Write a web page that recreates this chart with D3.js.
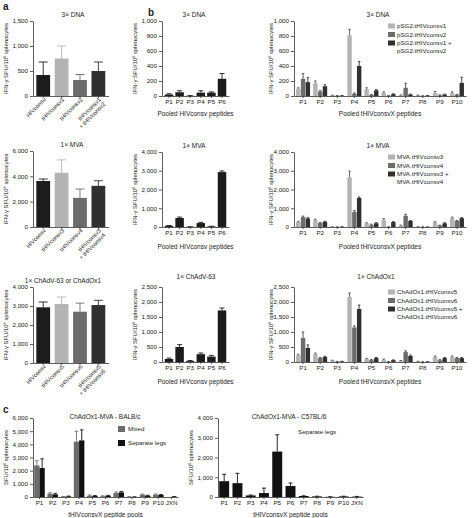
<!DOCTYPE html>
<html><head><meta charset="utf-8">
<script src="https://cdn.jsdelivr.net/npm/d3@7"></script>
<style>
body{margin:0;background:#fff}
svg{display:block}
text{font-family:"Liberation Sans",Arial,Helvetica,sans-serif;fill:#222}
</style>
</head><body>
<svg id="chart" width="473" height="518"></svg>
<script>
// ---------------- DATA ----------------
const aCatsDNA = ["HIVconsv","tHIVconsv1","tHIVconsv2","tHIVconsv1|+ tHIVconsv2"];
const aCatsMVA = ["HIVconsv","tHIVconsv3","tHIVconsv4","tHIVconsv3|+ tHIVconsv4"];
const aCatsChAd = ["HIVconsv","tHIVconsv5","tHIVconsv6","tHIVconsv5|+ tHIVconsv6"];
const aDNA = [420, 750, 320, 500];
const aDNAErr = [680, 1000, 430, 680];
const aMVA = [3630, 4280, 2300, 3250];
const aMVAErr = [3790, 5300, 3000, 3650];
const aChAd = [2930, 3100, 2700, 3050];
const aChAdErr = [3210, 3470, 3150, 3300];

const bPools6 = ["P1","P2","P3","P4","P5","P6"];
const bDNA = [20, 50, 3, 45, 45, 230];
const bDNAErr = [30, 70, 5, 70, 55, 300];
const bMVA = [60, 480, 10, 210, 30, 2930];
const bMVAErr = [80, 530, 15, 250, 40, 2990];
const bChAd = [100, 500, 30, 260, 180, 1720];
const bChAdErr = [130, 580, 50, 300, 220, 1800];

const bPools10 = ["P1","P2","P3","P4","P5","P6","P7","P8","P9","P10"];
const dnaNames = ["pSG2.tHIVconsv1","pSG2.tHIVconsv2","pSG2.tHIVconsv1 +|pSG2.tHIVconsv2"];
const dnaV1 = [95, 170, 10, 810, 90, 40, 10, 10, 40, 40];
const dnaE1 = [110, 200, 12, 890, 110, 55, 15, 12, 60, 55];
const dnaV2 = [230, 60, 3, 30, 15, 3, 110, 2, 10, 15];
const dnaE2 = [300, 70, 5, 40, 20, 5, 170, 3, 15, 20];
const dnaV3 = [185, 130, 5, 400, 75, 25, 20, 5, 20, 175];
const dnaE3 = [245, 150, 7, 460, 85, 30, 25, 7, 25, 250];

const mvaNames = ["MVA.tHIVconsv3","MVA.tHIVconsv4","MVA.tHIVconsv3 +|MVA.tHIVconsv4"];
const mvaV1 = [270, 370, 10, 2650, 200, 380, 80, 10, 250, 480];
const mvaE1 = [300, 420, 15, 2980, 230, 450, 100, 15, 280, 530];
const mvaV2 = [530, 210, 5, 800, 100, 10, 600, 5, 80, 320];
const mvaE2 = [580, 240, 8, 870, 150, 15, 680, 8, 100, 350];
const mvaV3 = [460, 280, 10, 1550, 200, 260, 320, 5, 200, 470];
const mvaE3 = [500, 310, 15, 1600, 230, 290, 350, 8, 230, 500];

const chadNames = ["ChAdOx1.tHIVconsv5","ChAdOx1.tHIVconsv6","ChAdOx1.tHIVconsv5 +|ChAdOx1.tHIVconsv6"];
const chadV1 = [230, 270, 50, 2170, 100, 80, 40, 20, 170, 170];
const chadE1 = [260, 300, 60, 2300, 120, 100, 50, 25, 200, 200];
const chadV2 = [800, 130, 15, 1150, 70, 10, 330, 5, 60, 130];
const chadE2 = [1000, 150, 20, 1200, 90, 15, 370, 8, 80, 150];
const chadV3 = [470, 170, 20, 1770, 130, 60, 200, 10, 130, 130];
const chadE3 = [570, 190, 25, 1900, 150, 70, 230, 12, 150, 150];

const cPools = ["P1","P2","P3","P4","P5","P6","P7","P8","P9","P10","JXN"];
const cNames = ["Mixed","Separate legs"];
const cMixed = [2400, 250, 30, 4200, 100, 60, 300, 20, 180, 180, 0];
const cMixedErr = [2750, 320, 40, 5000, 150, 90, 380, 25, 220, 230, 0];
const cSep = [2200, 200, 50, 4300, 80, 100, 350, 10, 100, 150, 30];
const cSepErr = [2900, 280, 70, 5100, 110, 130, 420, 15, 130, 190, 40];
const cC57 = [800, 700, 80, 200, 2300, 560, 50, 30, 10, 30, 20];
const cC57Err = [1150, 1200, 100, 450, 3150, 710, 60, 40, 15, 40, 30];

const tk1500 = [0, 500, 1000, 1500];
const tk6000a = [0, 2000, 4000, 6000];
const tk4000a = [0, 1000, 2000, 3000, 4000];
const tk1000 = [0, 200, 400, 600, 800, 1000];
const tk2500 = [0, 500, 1000, 1500, 2000, 2500];
const tk6000c = [0, 1000, 2000, 3000, 4000, 5000, 6000];

// colours
const cBlack = "#1c1c1c", cLight = "#b3b3b3", cMid = "#6c6c6c", cDark = "#303030";

// ---------------- DRAW ----------------
const svg = d3.select("#chart");
const fmt = d3.format(",");
const AX = "#333";
const TXT = "#222";

function yLabelText(sel, prefix) {
  sel.append("tspan").attr("fill", TXT).text(prefix + "SFU/10");
  sel.append("tspan").attr("fill", TXT).attr("dy", -2).attr("font-size", "4px").text("6");
  sel.append("tspan").attr("fill", TXT).attr("dy", 2).text(" splenocytes");
}

function drawPanel(o) {
  const g = svg.append("g");
  const x = d3.scaleBand().domain(o.cats).range([o.left, o.right])
    .paddingInner(o.padIn).paddingOuter(o.padOut);
  const y = d3.scaleLinear().domain([0, o.max]).range([o.bottom, o.top]);
  const sub = d3.scaleBand().domain(d3.range(o.series.length))
    .range([0, x.bandwidth()]).paddingInner(o.subPad || 0);

  const ya = g.append("g").attr("transform", `translate(${o.left},0)`)
    .call(d3.axisLeft(y).tickValues(o.ticks).tickFormat(fmt).tickSize(3).tickSizeOuter(0).tickPadding(2));
  const xa = g.append("g").attr("transform", `translate(0,${o.bottom})`)
    .call(d3.axisBottom(x).tickSize(2).tickSizeOuter(0).tickPadding(2)
      .tickFormat(o.rotLabels ? () => "" : d => d));
  [ya, xa].forEach(a => {
    a.selectAll("path,line").attr("stroke", AX).attr("stroke-width", 0.8);
    a.selectAll("text").attr("font-size", "6.2px").attr("fill", TXT)
      .style("font-family", '"Liberation Sans",Arial,sans-serif');
  });

  o.series.forEach((s, i) => {
    const bw = sub.bandwidth();
    const rows = o.cats.map((c, j) => ({c, v: s.values[j], e: s.errs[j]}));
    const sg = g.append("g");
    sg.selectAll("rect").data(rows).join("rect")
      .attr("x", d => x(d.c) + sub(i)).attr("y", d => y(d.v))
      .attr("width", bw).attr("height", d => o.bottom - y(d.v))
      .attr("fill", s.color);
    const er = rows.filter(d => d.e > d.v);
    sg.selectAll("line.v").data(er).join("line").attr("class", "v")
      .attr("x1", d => x(d.c) + sub(i) + bw / 2).attr("x2", d => x(d.c) + sub(i) + bw / 2)
      .attr("y1", d => y(d.v)).attr("y2", d => y(d.e))
      .attr("stroke", s.errColor || s.color).attr("stroke-width", 0.9);
    sg.selectAll("line.cap").data(er).join("line").attr("class", "cap")
      .attr("x1", d => x(d.c) + sub(i) + bw / 2 - o.cap / 2).attr("x2", d => x(d.c) + sub(i) + bw / 2 + o.cap / 2)
      .attr("y1", d => y(d.e)).attr("y2", d => y(d.e))
      .attr("stroke", s.errColor || s.color).attr("stroke-width", 0.9);
  });

  if (o.rotLabels) {
    o.cats.forEach(c => {
      const lines = c.split("|");
      const cx = x(c) + x.bandwidth() / 2;
      const t = g.append("text").attr("transform", `translate(${cx + 3},${o.bottom + 4}) rotate(-45)`)
        .attr("text-anchor", "end").attr("font-size", "5.8px").attr("fill", TXT);
      lines.forEach((l, k) => t.append("tspan").attr("fill", TXT).attr("x", 0).attr("dy", k === 0 ? 0 : "1.1em").text(l));
    });
  }

  if (o.title) g.append("text").attr("x", o.titleX).attr("y", o.titleY).attr("text-anchor", "middle")
    .attr("font-size", "6.5px").attr("fill", TXT).text(o.title);
  if (o.xTitle) g.append("text").attr("x", (o.left + o.right) / 2).attr("y", o.xTitleY)
    .attr("text-anchor", "middle").attr("font-size", "6.5px").attr("fill", TXT).text(o.xTitle);
  const yl = g.append("text").attr("transform", `translate(${o.yLabelX},${(o.top + o.bottom) / 2}) rotate(-90)`)
    .attr("text-anchor", "middle").attr("font-size", "5.9px").attr("fill", TXT);
  yLabelText(yl, o.yPrefix);

  if (o.legend) {
    let ly = o.top + 5;
    o.series.forEach((s) => {
      g.append("rect").attr("x", o.legend.x).attr("y", ly - 2.5).attr("width", 7).attr("height", 5).attr("fill", s.color);
      s.name.split("|").forEach((l, k) => {
        g.append("text").attr("x", o.legend.x + 9).attr("y", ly + 2 + k * 7.5).attr("font-size", "6.2px").attr("fill", TXT).text(l);
      });
      ly += o.legend.step;
    });
  }
  return {x, y, g};
}

// panel letters
svg.append("text").attr("x", 3).attr("y", 10).attr("font-size", "10px").attr("font-weight", "bold").attr("fill", "#111").text("a");
svg.append("text").attr("x", 148).attr("y", 16).attr("font-size", "10px").attr("font-weight", "bold").attr("fill", "#111").text("b");
svg.append("text").attr("x", 3).attr("y", 413).attr("font-size", "10px").attr("font-weight", "bold").attr("fill", "#111").text("c");

const aColors = [cBlack, cLight, cMid, cDark];

function drawA(cats, vals, errs, top, bottom, max, ticks, title, titleX) {
  const o = {cats, series: [], left: 33, right: 108.6, padIn: 0.25, padOut: 0.18,
    top, bottom, max, ticks, cap: 9, rotLabels: true, title, titleX, titleY: top - 4,
    yLabelX: 8, yPrefix: "IFN-γ "};
  const p = drawPanel(o);
  const bw = p.x.bandwidth();
  const rows = cats.map((c, i) => ({c, v: vals[i], e: errs[i], col: aColors[i]}));
  p.g.selectAll("rect.bar").data(rows).join("rect").attr("class", "bar")
    .attr("x", d => p.x(d.c)).attr("y", d => p.y(d.v)).attr("width", bw)
    .attr("height", d => bottom - p.y(d.v)).attr("fill", d => d.col);
  p.g.selectAll("line.ev").data(rows).join("line").attr("class", "ev")
    .attr("x1", d => p.x(d.c) + bw / 2).attr("x2", d => p.x(d.c) + bw / 2)
    .attr("y1", d => p.y(d.v)).attr("y2", d => p.y(d.e)).attr("stroke", d => d.col).attr("stroke-width", 0.9);
  p.g.selectAll("line.ec").data(rows).join("line").attr("class", "ec")
    .attr("x1", d => p.x(d.c) + bw / 2 - 4.5).attr("x2", d => p.x(d.c) + bw / 2 + 4.5)
    .attr("y1", d => p.y(d.e)).attr("y2", d => p.y(d.e)).attr("stroke", d => d.col).attr("stroke-width", 0.9);
}

drawA(aCatsDNA, aDNA, aDNAErr, 21, 96, 1500, tk1500, "3\u00d7 DNA", 73);
drawA(aCatsMVA, aMVA, aMVAErr, 151, 227, 6000, tk6000a, "1\u00d7 MVA", 72);
drawA(aCatsChAd, aChAd, aChAdErr, 287, 363, 4000, tk4000a, "1\u00d7 ChAdV-63 or ChAdOx1", 63);

const bMid = {cats: bPools6, left: 162, right: 229, padIn: 0.2, padOut: 0.26, cap: 5,
  yLabelX: 137, yPrefix: "IFN-γ ", xTitle: "Pooled HIVconsv peptides"};
drawPanel(Object.assign({}, bMid, {series: [{color: cBlack, values: bDNA, errs: bDNAErr}],
  top: 21, bottom: 96, max: 1000, ticks: tk1000, title: "3\u00d7 DNA", titleX: 194, titleY: 17, xTitleY: 116}));
drawPanel(Object.assign({}, bMid, {series: [{color: cBlack, values: bMVA, errs: bMVAErr}],
  top: 152, bottom: 227, max: 4000, ticks: tk4000a, title: "1\u00d7 MVA", titleX: 194, titleY: 148, xTitleY: 249}));
drawPanel(Object.assign({}, bMid, {series: [{color: cBlack, values: bChAd, errs: bChAdErr}],
  top: 287, bottom: 362, max: 2500, ticks: tk2500, title: "1\u00d7 ChAdV-63", titleX: 196, titleY: 279, xTitleY: 384}));

const bRight = {cats: bPools10, left: 294, right: 466, padIn: 0.18, padOut: 0.12, subPad: 0.08, cap: 2.5,
  yLabelX: 273, yPrefix: "IFN-γ ", xTitle: "Pooled tHIVconsvX peptides", legend: {x: 388, step: 8.5}};
drawPanel(Object.assign({}, bRight, {series: [
    {name: dnaNames[0], color: cLight, values: dnaV1, errs: dnaE1, errColor: "#555"},
    {name: dnaNames[1], color: cMid, values: dnaV2, errs: dnaE2, errColor: "#444"},
    {name: dnaNames[2], color: cDark, values: dnaV3, errs: dnaE3}],
  top: 21, bottom: 96, max: 1000, ticks: tk1000, title: "3\u00d7 DNA", titleX: 378, titleY: 17, xTitleY: 116}));
drawPanel(Object.assign({}, bRight, {series: [
    {name: mvaNames[0], color: cLight, values: mvaV1, errs: mvaE1, errColor: "#555"},
    {name: mvaNames[1], color: cMid, values: mvaV2, errs: mvaE2, errColor: "#444"},
    {name: mvaNames[2], color: cDark, values: mvaV3, errs: mvaE3}],
  top: 152, bottom: 227, max: 4000, ticks: tk4000a, title: "1\u00d7 MVA", titleX: 378, titleY: 148, xTitleY: 249}));
drawPanel(Object.assign({}, bRight, {series: [
    {name: chadNames[0], color: cLight, values: chadV1, errs: chadE1, errColor: "#555"},
    {name: chadNames[1], color: cMid, values: chadV2, errs: chadE2, errColor: "#444"},
    {name: chadNames[2], color: cDark, values: chadV3, errs: chadE3}],
  top: 287, bottom: 362, max: 2500, ticks: tk2500, title: "1\u00d7 ChAdOx1", titleX: 376, titleY: 279, xTitleY: 384}));

drawPanel({cats: cPools, left: 33, right: 178, padIn: 0.2, padOut: 0.09, cap: 3.5,
  series: [{name: cNames[0], color: cMid, values: cMixed, errs: cMixedErr},
           {name: cNames[1], color: "#111", values: cSep, errs: cSepErr}],
  top: 418, bottom: 497, max: 6000, ticks: tk6000c, title: "ChAdOx1-MVA - BALB/c", titleX: 105, titleY: 419,
  xTitle: "tHIVconsvX peptide pools", xTitleY: 517, yLabelX: 8, yPrefix: ""});
[[cNames[0], cMid, 429], [cNames[1], "#111", 443]].forEach(([n, col, ly]) => {
  svg.append("rect").attr("x", 118).attr("y", ly - 3).attr("width", 7).attr("height", 6).attr("fill", col);
  svg.append("text").attr("x", 128).attr("y", ly + 2).attr("font-size", "6.2px").attr("fill", TXT).text(n);
});

drawPanel({cats: cPools, left: 218, right: 363, padIn: 0.25, padOut: 0.09, cap: 4,
  series: [{name: cNames[1], color: "#111", values: cC57, errs: cC57Err}],
  top: 418, bottom: 497, max: 4000, ticks: tk4000a, title: "ChAdOx1-MVA - C57BL/6", titleX: 289, titleY: 419,
  xTitle: "tHIVconsvX peptide pools", xTitleY: 517, yLabelX: 193, yPrefix: ""});
svg.append("text").attr("x", 298).attr("y", 434).attr("font-size", "6.2px").attr("fill", TXT).text(cNames[1]);
</script>
</body></html>
